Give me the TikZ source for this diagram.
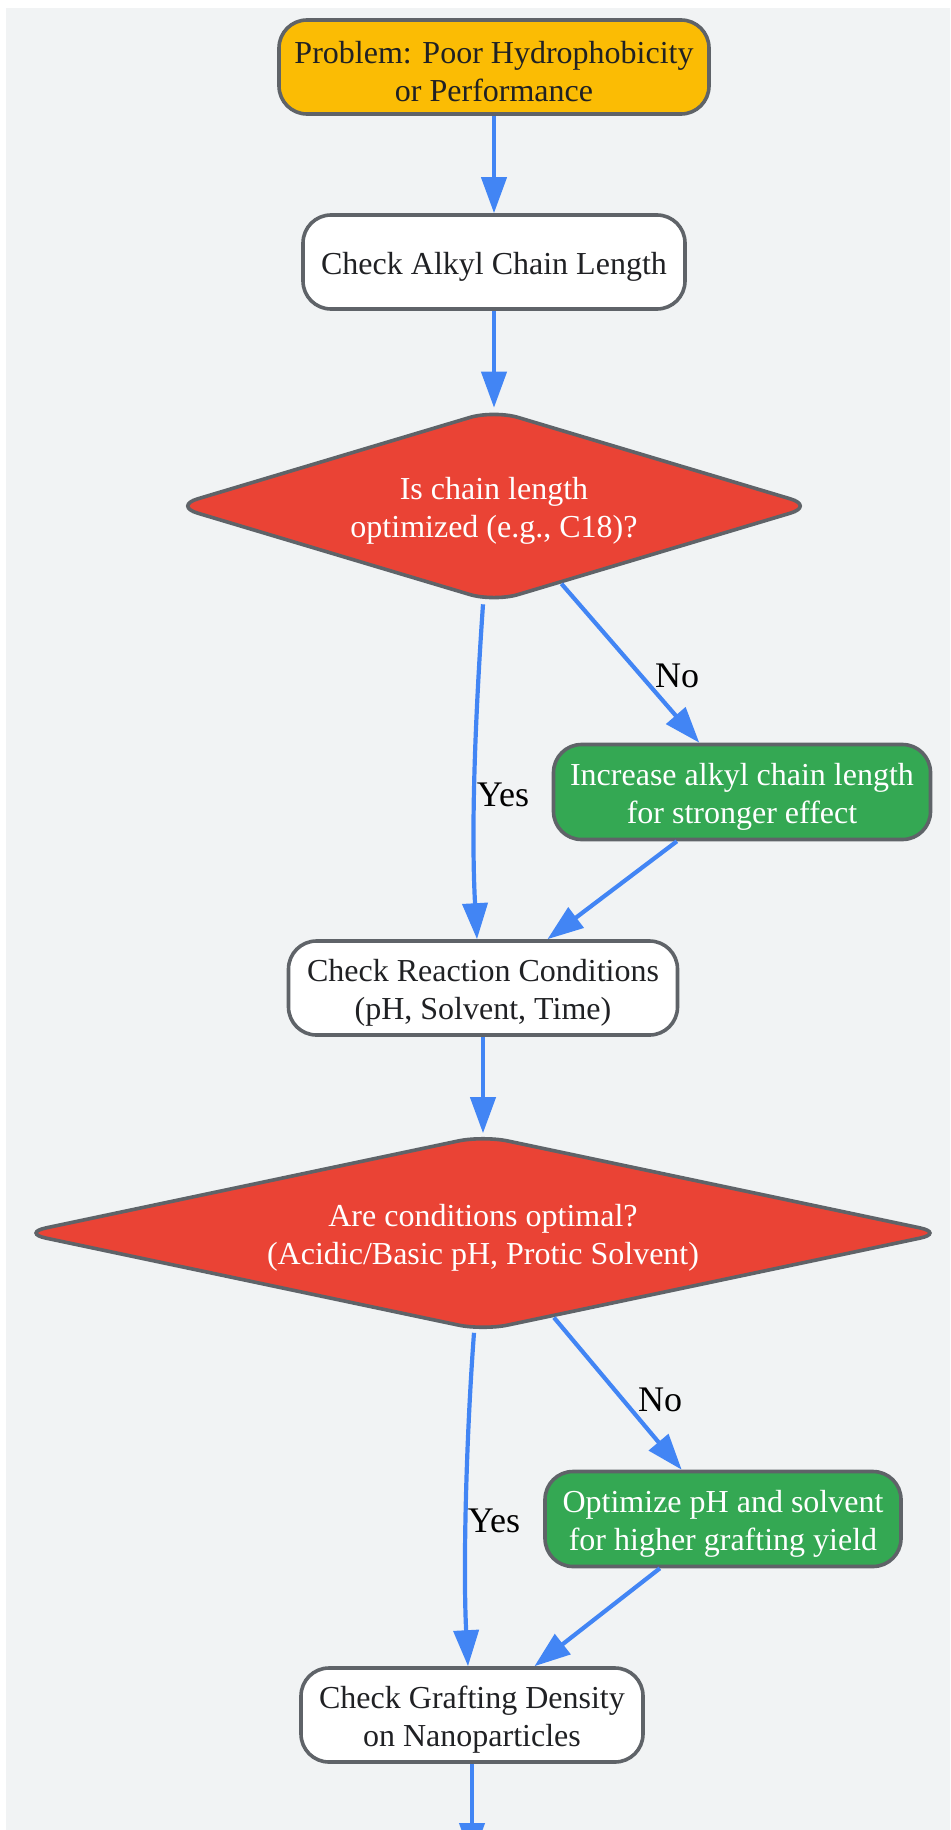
\documentclass[tikz,border=0pt]{standalone}
\usepackage{fontspec}
\setmainfont{Liberation Serif}
\usetikzlibrary{arrows.meta,shapes.geometric}
\definecolor{bgc}{HTML}{F1F3F4}
\definecolor{orangec}{HTML}{FBBC04}
\definecolor{redc}{HTML}{EA4335}
\definecolor{greenc}{HTML}{34A853}
\definecolor{bluec}{HTML}{4285F4}
\definecolor{bordc}{HTML}{5F6368}
\definecolor{textc}{HTML}{202124}
\newcommand\mynodefont{\fontsize{32}{38}\selectfont}
\newcommand\mylabelfont{\fontsize{36}{40}\selectfont}
\newcommand\tup{\rule{0pt}{31pt}}
\begin{document}
\begin{tikzpicture}[x=1pt,y=-1pt,
  box/.style={draw=bordc, line width=3.6pt, rounded corners=28pt, align=center,
    font=\mynodefont, text=textc, inner sep=0pt},
  whitebox/.style={box, fill=white},
  greenbox/.style={box, fill=greenc, text=white},
  dia/.style={diamond, draw=bordc, line width=3.6pt, rounded corners=25pt, fill=redc,
    text=white, align=center, font=\mynodefont, inner sep=2pt},
  arr/.style={draw=bluec, line width=4.2pt, -{Triangle[length=36pt,width=25pt]}},
  lbl/.style={font=\mylabelfont, text=black, inner sep=0pt}
]
\useasboundingbox (0,0) rectangle (950,1830);
\clip (0,0) rectangle (950,1830);
\fill[bgc] (6,8) rectangle (960,1840);

\node[box, fill=orangec, minimum width=430pt, minimum height=94pt] (prob) at (494,67)
  {\tup Problem: Poor Hydrophobicity\\or Performance};
\node[whitebox, minimum width=382pt, minimum height=94pt] (chk1) at (494,262)
  {\tup Check Alkyl Chain Length};
\node[dia, minimum width=642pt, minimum height=193pt, aspect=3.33] (d1) at (494,506)
  {\tup Is chain length\\optimized (e.g., C18)?};
\node[greenbox, minimum width=377pt, minimum height=95pt] (inc) at (742,792)
  {\tup Increase alkyl chain length\\for stronger effect};
\node[whitebox, minimum width=389pt, minimum height=94pt] (reac) at (483,988)
  {\tup Check Reaction Conditions\\(pH, Solvent, Time)};
\node[dia, minimum width=924pt, minimum height=196pt, aspect=4.71] (d2) at (483,1233)
  {\tup Are conditions optimal?\\(Acidic/Basic pH, Protic Solvent)};
\node[greenbox, minimum width=356pt, minimum height=95pt] (opt) at (723,1519)
  {\tup Optimize pH and solvent\\for higher grafting yield};
\node[whitebox, minimum width=342pt, minimum height=94pt] (graft) at (472,1715)
  {\tup Check Grafting Density\\on Nanoparticles};
\coordinate (nxt) at (472,1859);

\draw[arr] (prob) -- (chk1);
\draw[arr] (chk1) -- (d1);
\draw[arr] ([xshift=-11pt]d1.south) .. controls (475,720) and (471,830) .. ([xshift=-6pt]reac.north);
\draw[arr] (d1) -- (inc);
\draw[arr] (inc) -- (reac);
\draw[arr] (reac) -- (d2);
\draw[arr] ([xshift=-9pt]d2.south) .. controls (466,1440) and (463,1570) .. ([xshift=-4pt]graft.north);
\draw[arr] (d2) -- (opt);
\draw[arr] (opt) -- (graft);
\draw[arr] (graft) -- (nxt);

\node[lbl] (yes1) at (503,795) {Yes};
\node[lbl] (no1) at (677,676) {No};
\node[lbl] (yes2) at (494,1521) {Yes};
\node[lbl] (no2) at (660,1400) {No};
\end{tikzpicture}
\end{document}
